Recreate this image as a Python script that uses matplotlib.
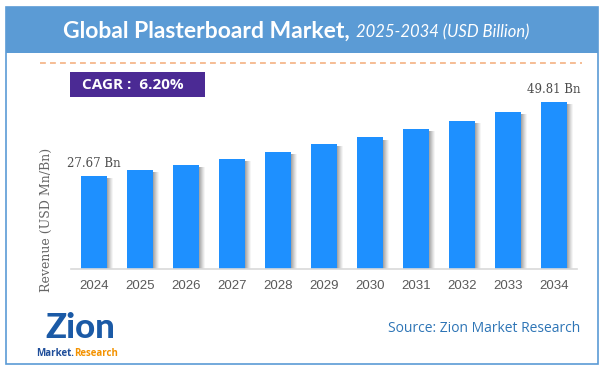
import numpy as np
import matplotlib
matplotlib.use("Agg")
import matplotlib.pyplot as plt
from matplotlib.patches import Rectangle
from matplotlib.lines import Line2D
from matplotlib.transforms import ScaledTranslation

# data
years = ["2024", "2025", "2026", "2027", "2028", "2029",
         "2030", "2031", "2032", "2033", "2034"]
revenue = [27.67, 29.42, 31.16, 32.91, 34.95, 37.28,
           39.23, 41.65, 44.27, 46.89, 49.81]
labels = {0: "27.67 Bn", 10: "49.81 Bn"}
cagr_text = "CAGR :  6.20%"

W, H = 605, 373
fig = plt.figure(figsize=(W / 100, H / 100), dpi=100)
fig.patch.set_facecolor("white")


def fx(px):
    return px / W


def fy(py):
    # py measured from the top of the picture
    return 1 - py / H


# outer border and header band
fig.patches.append(Rectangle((fx(6), fy(364)), fx(592), (364 - 7) / H,
                             transform=fig.transFigure, facecolor="none",
                             edgecolor="#5B9BD5", lw=1.2, zorder=0))
fig.patches.append(Rectangle((fx(6), fy(53)), fx(592), 46 / H,
                             transform=fig.transFigure, facecolor="#5B9BD5",
                             edgecolor="none", zorder=1))

fig.text(fx(350), fy(31), "Global Plasterboard Market,", color="white",
         fontsize=16.5, fontweight="bold", family="Lato", ha="right", va="center")
fig.text(fx(356), fy(32), "2025-2034 (USD Billion)", color="white",
         fontsize=12, style="italic", family="Lato", ha="left", va="center")

# dashed orange rule
fig.lines.append(Line2D([fx(40), fx(582)], [fy(63), fy(63)],
                        transform=fig.transFigure, color="#F4B183", lw=1.2,
                        dashes=(3.5, 2.5)))

# CAGR badge
fig.patches.append(Rectangle((fx(70), fy(97)), fx(135), 25 / H,
                             transform=fig.transFigure, facecolor="#4B2A94",
                             edgecolor="none"))
fig.text(fx(82), fy(85), cagr_text, color="white", fontsize=11,
         fontweight="bold", family="Open Sans", ha="left", va="center")

# bar chart
ax_bottom = 269
ymax = 56
ax_h = 167 / 49.81 * ymax
ax = fig.add_axes([fx(71), fy(ax_bottom), fx(577 - 71), ax_h / H])
x = np.arange(len(years))

# soft grey shadow to the right of each bar
for i, dx in enumerate(range(1, 7)):
    tr = ax.transData + ScaledTranslation(dx * 0.72 / 72, -1.5 / 72,
                                          fig.dpi_scale_trans)
    ax.bar(x, revenue, width=0.58, color="#555555", alpha=0.16 - i * 0.02,
           transform=tr, zorder=1, linewidth=0)
ax.bar(x, revenue, width=0.58, color="#1E90FF", zorder=2, linewidth=0)

for i, txt in labels.items():
    ax.annotate(txt, (x[i], revenue[i]), xytext=(0, 9),
                textcoords="offset points", ha="center", va="center",
                family="DejaVu Serif", fontsize=8.5, color="#4D4D4D")

ax.set_xlim(-0.5, len(years) - 0.5)
ax.set_ylim(0, ymax)
ax.set_xticks(x)
ax.set_xticklabels(years, family="Liberation Sans", fontsize=9.5,
                   color="#595959")
ax.tick_params(axis="x", length=0, pad=8)
ax.set_yticks([])
for s in ["top", "right", "left"]:
    ax.spines[s].set_visible(False)
ax.spines["bottom"].set_color("#D9D9D9")
ax.spines["bottom"].set_linewidth(1.2)
ax.patch.set_alpha(0)

fig.text(fx(46), fy(220), "Revenue (USD Mn/Bn)", rotation=90,
         family="DejaVu Serif", fontsize=9, color="#666666",
         ha="center", va="center")

# logo (text approximation)
fig.text(fx(80), fy(338), "Zion", color="#1B5AA6", fontsize=25,
         fontweight="black", family="Lato", ha="center", va="baseline")
r = fig.canvas.get_renderer()
t1 = fig.text(fx(36), fy(356), "Market.", color="#1F4E9A", fontsize=7,
              fontweight="bold", family="Open Sans", ha="left", va="baseline")
bb = t1.get_window_extent(renderer=r)
fig.text(bb.x1 / W, fy(356), "Research", color="#F39200", fontsize=7,
         fontweight="bold", family="Open Sans", ha="left", va="baseline")

fig.text(fx(580), fy(328), "Source: Zion Market Research", color="#2E75B6",
         fontsize=10, family="Open Sans", ha="right", va="center")

fig.savefig("out.png", dpi=100)
